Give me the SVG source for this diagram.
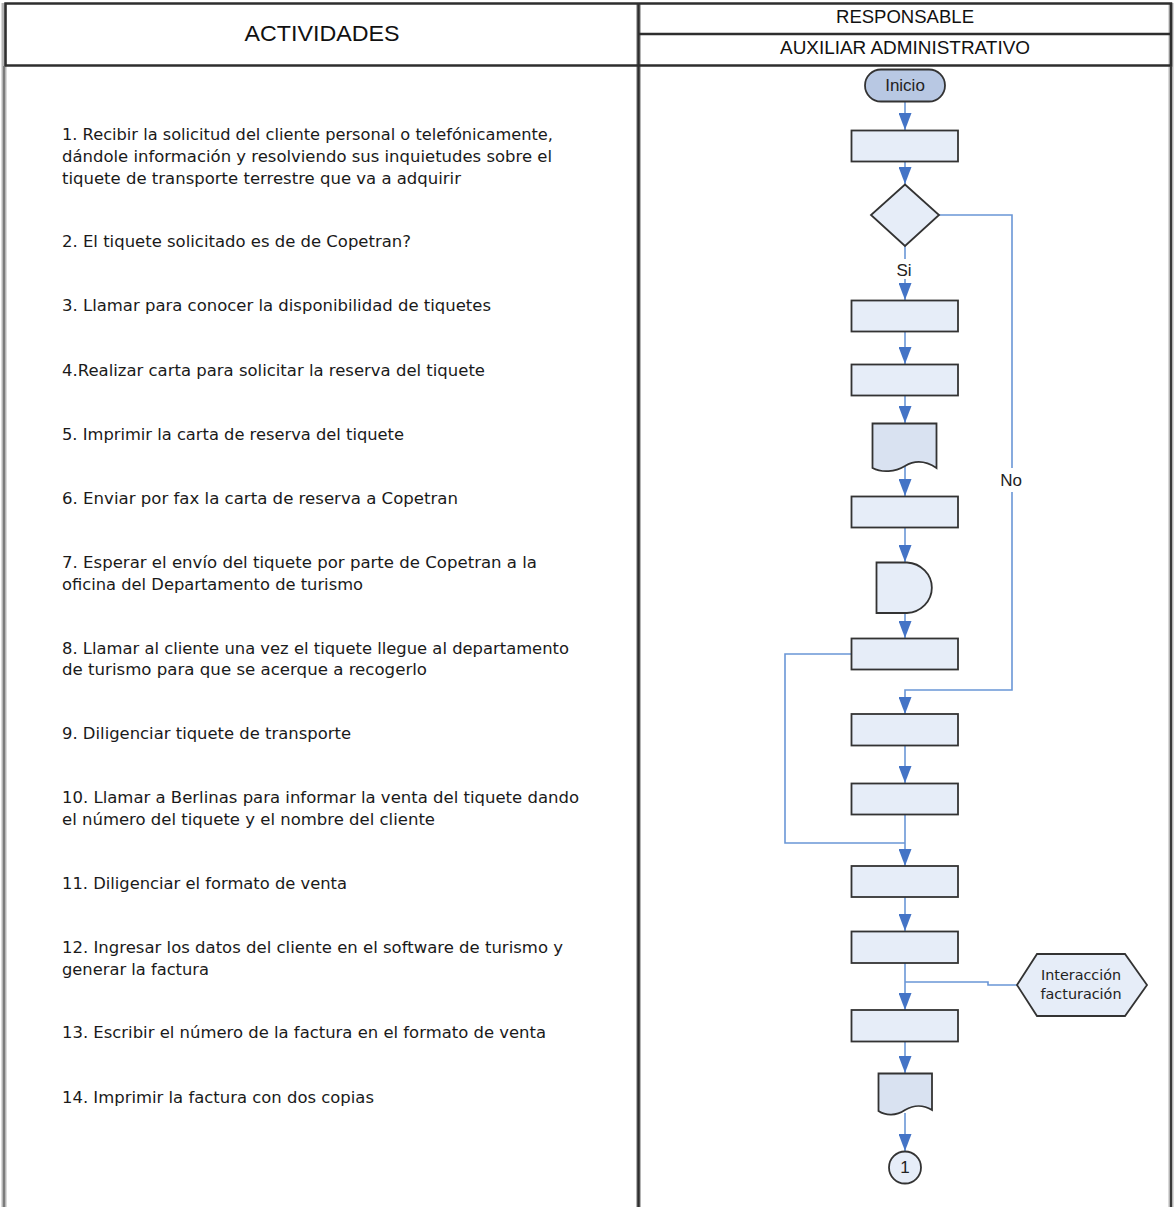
<svg xmlns="http://www.w3.org/2000/svg" width="1174" height="1207" viewBox="0 0 1174 1207">
  <style>
    .frame { fill: none; stroke: #2e2e2e; stroke-width: 2.5; }
    .halo { fill: none; stroke: #b5b5b5; stroke-width: 5; }
    .hdr { font-family: "Liberation Sans", Arial, sans-serif; fill: #111; text-anchor: middle; }
    .act { font-family: "DejaVu Sans", Verdana, sans-serif; font-size: 15px; fill: #1a1a1a; }
    .box { fill: #e6edf8; stroke: #333333; stroke-width: 1.8; }
    .doc { fill: #d9e2f1; stroke: #333333; stroke-width: 1.8; }
    .term { fill: #b8c8e3; stroke: #333333; stroke-width: 1.8; }
    .conn { fill: none; stroke: #6a96d6; stroke-width: 1.6; }
    .lbl { font-family: "Liberation Sans", Arial, sans-serif; font-size: 17px; fill: #222; text-anchor: middle; }
    .small { font-family: "DejaVu Sans", Verdana, sans-serif; font-size: 14px; fill: #222; text-anchor: middle; }
  </style>
  <defs>
    <marker id="ah" viewBox="0 0 17 13" refX="17" refY="6.5" markerWidth="17" markerHeight="13" markerUnits="userSpaceOnUse" orient="auto">
      <path d="M0,0 L17,6.5 L0,13 Z" fill="#4474c6"/>
    </marker>
  </defs>

  <rect width="1174" height="1207" fill="#ffffff"/>

  <!-- table frame -->
  <g id="table">
    <g class="halo">
      <line x1="4" y1="3" x2="4" y2="1207"/>
      <line x1="638.5" y1="3" x2="638.5" y2="1207"/>
      <line x1="1171" y1="3" x2="1171" y2="1207"/>
    </g>
    <rect class="frame" x="5.5" y="3.5" width="1165.5" height="62"/>
    <line class="frame" x1="638.5" y1="3" x2="638.5" y2="1207"/>
    <line class="frame" x1="638.5" y1="34" x2="1171" y2="34"/>
    <line x1="4" y1="66" x2="4" y2="1207" stroke="#6a6a6a" stroke-width="1.5"/>
    <line x1="1171" y1="66" x2="1171" y2="1207" stroke="#3a3a3a" stroke-width="2"/>
    <text class="hdr" x="322" y="41" font-size="22" textLength="155" lengthAdjust="spacingAndGlyphs">ACTIVIDADES</text>
    <text class="hdr" x="905" y="23" font-size="18" textLength="138" lengthAdjust="spacingAndGlyphs">RESPONSABLE</text>
    <text class="hdr" x="905" y="54" font-size="18" textLength="250" lengthAdjust="spacingAndGlyphs">AUXILIAR ADMINISTRATIVO</text>
  </g>

  <!-- activity descriptions -->
  <g id="activities" class="act">
    <text x="62" y="139.5" textLength="491" lengthAdjust="spacingAndGlyphs">1. Recibir la solicitud del cliente personal o telefónicamente,</text>
    <text x="62" y="161.5" textLength="490" lengthAdjust="spacingAndGlyphs">dándole información y resolviendo sus inquietudes sobre el</text>
    <text x="62" y="183.5" textLength="399" lengthAdjust="spacingAndGlyphs">tiquete de transporte terrestre que va a adquirir</text>
    <text x="62" y="246.5" textLength="349" lengthAdjust="spacingAndGlyphs">2. El tiquete solicitado es de de Copetran?</text>
    <text x="62" y="310.5" textLength="429" lengthAdjust="spacingAndGlyphs">3. Llamar para conocer la disponibilidad de tiquetes</text>
    <text x="62" y="375.5" textLength="423" lengthAdjust="spacingAndGlyphs">4.Realizar carta para solicitar la reserva del tiquete</text>
    <text x="62" y="439.5" textLength="342" lengthAdjust="spacingAndGlyphs">5. Imprimir la carta de reserva del tiquete</text>
    <text x="62" y="503.5" textLength="396" lengthAdjust="spacingAndGlyphs">6. Enviar por fax la carta de reserva a Copetran</text>
    <text x="62" y="567.5" textLength="475" lengthAdjust="spacingAndGlyphs">7. Esperar el envío del tiquete por parte de Copetran a la</text>
    <text x="62" y="589.5" textLength="301" lengthAdjust="spacingAndGlyphs">oficina del Departamento de turismo</text>
    <text x="62" y="653.5" textLength="507" lengthAdjust="spacingAndGlyphs">8. Llamar al cliente una vez el tiquete llegue al departamento</text>
    <text x="62" y="674.5" textLength="365" lengthAdjust="spacingAndGlyphs">de turismo para que se acerque a recogerlo</text>
    <text x="62" y="738.5" textLength="289" lengthAdjust="spacingAndGlyphs">9. Diligenciar tiquete de transporte</text>
    <text x="62" y="802.5" textLength="517" lengthAdjust="spacingAndGlyphs">10. Llamar a Berlinas para informar la venta del tiquete dando</text>
    <text x="62" y="824.5" textLength="373" lengthAdjust="spacingAndGlyphs">el número del tiquete y el nombre del cliente</text>
    <text x="62" y="888.5" textLength="285" lengthAdjust="spacingAndGlyphs">11. Diligenciar el formato de venta</text>
    <text x="62" y="952.5" textLength="501" lengthAdjust="spacingAndGlyphs">12. Ingresar los datos del cliente en el software de turismo y</text>
    <text x="62" y="974.5" textLength="147" lengthAdjust="spacingAndGlyphs">generar la factura</text>
    <text x="62" y="1037.5" textLength="484" lengthAdjust="spacingAndGlyphs">13. Escribir el número de la factura en el formato de venta</text>
    <text x="62" y="1102.5" textLength="312" lengthAdjust="spacingAndGlyphs">14. Imprimir la factura con dos copias</text>
  </g>

  <!-- connectors -->
  <g id="connectors">
    <line class="conn" x1="905" y1="102" x2="905" y2="130" marker-end="url(#ah)"/>
    <line class="conn" x1="905" y1="162" x2="905" y2="184" marker-end="url(#ah)"/>
    <line class="conn" x1="905" y1="246" x2="905" y2="259"/>
    <line class="conn" x1="905" y1="279" x2="905" y2="300" marker-end="url(#ah)"/>
    <line class="conn" x1="905" y1="331" x2="905" y2="364" marker-end="url(#ah)"/>
    <line class="conn" x1="905" y1="395" x2="905" y2="423" marker-end="url(#ah)"/>
    <line class="conn" x1="905" y1="466" x2="905" y2="496" marker-end="url(#ah)"/>
    <line class="conn" x1="905" y1="527" x2="905" y2="562" marker-end="url(#ah)"/>
    <line class="conn" x1="905" y1="613" x2="905" y2="638" marker-end="url(#ah)"/>
    <!-- "No" branch -->
    <polyline class="conn" points="939,215 1012,215 1012,468"/>
    <polyline class="conn" points="1012,492 1012,690 905,690 905,714" marker-end="url(#ah)"/>
    <line class="conn" x1="905" y1="746" x2="905" y2="783" marker-end="url(#ah)"/>
    <!-- loop from step 8 -->
    <polyline class="conn" points="851,654 785,654 785,843 905,843"/>
    <line class="conn" x1="905" y1="814" x2="905" y2="866" marker-end="url(#ah)"/>
    <line class="conn" x1="905" y1="897" x2="905" y2="931" marker-end="url(#ah)"/>
    <line class="conn" x1="905" y1="963" x2="905" y2="1010" marker-end="url(#ah)"/>
    <polyline class="conn" points="1017,985 988,985 988,982 905,982"/>
    <line class="conn" x1="905" y1="1041" x2="905" y2="1073" marker-end="url(#ah)"/>
    <line class="conn" x1="905" y1="1113" x2="905" y2="1151" marker-end="url(#ah)"/>
    <text class="lbl" x="904" y="276">Si</text>
    <text class="lbl" x="1011" y="486">No</text>
  </g>

  <!-- flow nodes -->
  <g id="inicio">
    <rect class="term" x="865" y="69.5" width="80" height="32" rx="16"/>
    <text class="lbl" x="905" y="91" font-size="16">Inicio</text>
  </g>
  <g id="step1"><rect class="box" x="851.5" y="130.5" width="106.5" height="31"/></g>
  <g id="step2"><polygon class="box" points="905,184.5 939,215 905,246 871,215"/></g>
  <g id="step3"><rect class="box" x="851.5" y="300.5" width="106.5" height="31"/></g>
  <g id="step4"><rect class="box" x="851.5" y="364.5" width="106.5" height="31"/></g>
  <g id="step5"><path class="doc" d="M872.5,423.5 H936.5 V468 C926,461 915,460 905,466 C895,472 882,473 872.5,468 Z"/></g>
  <g id="step6"><rect class="box" x="851.5" y="496.5" width="106.5" height="31"/></g>
  <g id="step7"><path class="box" d="M876.5,562.5 H907 A26.5,25.3 0 0 1 907,613 H876.5 Z"/></g>
  <g id="step8"><rect class="box" x="851.5" y="638.5" width="106.5" height="31"/></g>
  <g id="step9"><rect class="box" x="851.5" y="714" width="106.5" height="31.5"/></g>
  <g id="step10"><rect class="box" x="851.5" y="783.5" width="106.5" height="31"/></g>
  <g id="step11"><rect class="box" x="851.5" y="866" width="106.5" height="31"/></g>
  <g id="step12"><rect class="box" x="851.5" y="931.5" width="106.5" height="31.5"/></g>
  <g id="step13"><rect class="box" x="851.5" y="1010" width="106.5" height="31.5"/></g>
  <g id="step14"><path class="doc" d="M878.5,1073.5 H932 V1110 C922,1104 914,1105 905,1110 C896,1116 886,1116 878.5,1111 Z"/></g>
  <g id="facturacion">
    <polygon class="box" points="1017,985 1037,954 1125,954 1147,985 1125,1016 1037,1016"/>
    <text class="small" x="1081" y="980" textLength="80" lengthAdjust="spacingAndGlyphs">Interacción</text>
    <text class="small" x="1081" y="999" textLength="81" lengthAdjust="spacingAndGlyphs">facturación</text>
  </g>
  <g id="connector1">
    <circle class="box" cx="905" cy="1167.5" r="16"/>
    <text class="lbl" x="905" y="1173" font-size="15">1</text>
  </g>
</svg>
